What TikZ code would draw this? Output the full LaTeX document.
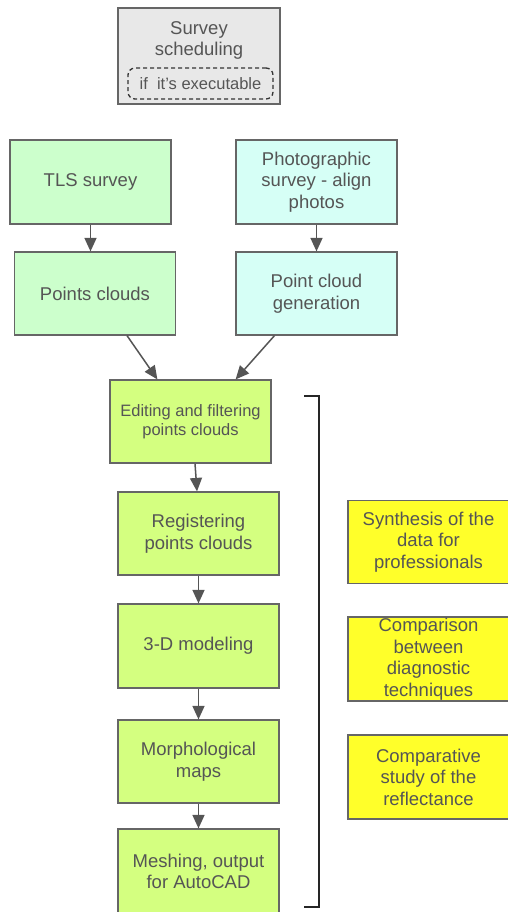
\documentclass[tikz,border=0pt]{standalone}
\usepackage{fontspec}
\setmainfont{Liberation Sans}
\usepackage{xcolor}
\usetikzlibrary{calc,arrows.meta}

\definecolor{boxline}{HTML}{666666}
\definecolor{txtgray}{HTML}{555555}
\definecolor{schedfill}{HTML}{E8E8E8}
\definecolor{tlsfill}{HTML}{CCFFCC}
\definecolor{photofill}{HTML}{D6FFF6}
\definecolor{procfill}{HTML}{D4FF80}
\definecolor{outfill}{HTML}{FFFF2A}

\begin{document}
\begin{tikzpicture}[x=1pt,y=-1pt,
  box/.style={draw=boxline, line width=1.2pt, text=txtgray, align=center,
    minimum width=161pt, minimum height=83pt, inner sep=0pt,
    font=\fontsize{18.5}{21.5}\selectfont},
  flow/.style={draw=txtgray, line width=1.5pt,
    -{Triangle[length=13.5pt,width=12pt]}}]
  \useasboundingbox (0,0) rectangle (507,912);

  %% Scheduling box on top
  \node[box, fill=schedfill, minimum width=162pt, minimum height=96pt] (SCHED) at (199,56) {};
  \node[text=txtgray, align=center, font=\fontsize{18.5}{21}\selectfont] (SCHEDTXT) at (199,40)
    {Survey\\scheduling};
  \node[draw=black!80, line width=1.3pt, dash pattern=on 4pt off 3pt, rounded corners=7pt,
    minimum width=145pt, minimum height=31pt, inner sep=0pt, text=txtgray,
    font=\fontsize{16.5}{19}\selectfont] (EXEC) at (200.5,83.5) {if~ it's executable};

  %% Two surveys and their point clouds
  \node[box, fill=tlsfill, minimum height=84pt] (TLS) at (90.5,182) {TLS survey};
  \node[box, fill=photofill, minimum height=84pt] (PHOTO) at (316.5,182)
    {Photographic\\survey - align\\photos};
  \node[box, fill=tlsfill] (PTS) at (95,293.5) {Points clouds};
  \node[box, fill=photofill] (PCGEN) at (316.5,293.5) {Point cloud\\generation};

  \draw[flow] (TLS.south) -- (TLS.south|-PTS.north);
  \draw[flow] (PHOTO.south) -- (PHOTO.south|-PCGEN.north);

  %% Processing chain
  \node[box, fill=procfill, font=\fontsize{16.5}{19.5}\selectfont] (EDIT) at (190.5,421.5)
    {Editing and filtering\\points clouds};
  \node[box, fill=procfill] (REG) at (198.5,533.5) {Registering\\points clouds};
  \node[box, fill=procfill, minimum height=84pt] (MODEL) at (198.5,646) {3-D modeling};
  \node[box, fill=procfill] (MAPS) at (198.5,761.5) {Morphological\\maps};
  \node[box, fill=procfill, minimum height=85pt] (MESH) at (198.5,871.5)
    {Meshing, output\\for AutoCAD};

  \draw[flow] ($(PTS.south)+(32,0)$) -- ($(EDIT.north west)+(48,0)$);
  \draw[flow] ($(PCGEN.south)+(-42,0)$) -- ($(EDIT.north east)+(-36,0)$);
  \draw[flow] ($(EDIT.south)+(4.5,0)$) -- ($(REG.north)+(-1.5,0)$);
  \draw[flow] (REG.south) -- (MODEL.north);
  \draw[flow] (MODEL.south) -- (MAPS.north);
  \draw[flow] (MAPS.south) -- (MESH.north);

  %% Bracket
  \coordinate (BRT) at (319,396);
  \coordinate (BRB) at (319,907);
  \draw[line width=1.4pt, black!85] ($(BRT)-(15,0)$) -- (BRT) -- (BRB) -- ($(BRB)-(15,0)$);

  %% Outputs
  \node[box, fill=outfill] (SYNTH) at (428.5,542) {Synthesis of the\\data for\\professionals};
  \node[box, fill=outfill, minimum height=84pt] (COMPAR) at (428.5,659)
    {Comparison\\between\\diagnostic\\techniques};
  \node[box, fill=outfill, minimum height=84pt] (REFL) at (428.5,777)
    {Comparative\\study of the\\reflectance};
\end{tikzpicture}
\end{document}
